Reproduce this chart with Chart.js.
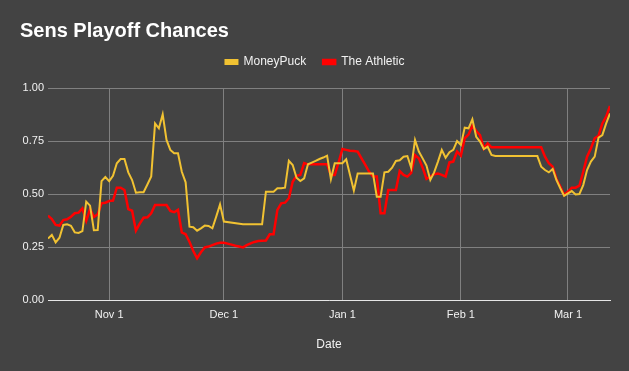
<!DOCTYPE html>
<html>
<head>
<meta charset="utf-8">
<script src="https://cdn.jsdelivr.net/npm/chart.js@4.4.1/dist/chart.umd.min.js"></script>
<style>
html,body{margin:0;padding:0;background:#434343;}
#wrap{width:629px;height:371px;}
</style>
</head>
<body>
<div id="wrap"><canvas id="c" width="629" height="371"></canvas></div>
<script>
// ---- data (daily, starting at startDate) ----
const startDate = '2022-10-16';
const tickDates = ['2022-11-01', '2022-12-01', '2023-01-01', '2023-02-01', '2023-03-01'];
const tickLabels = ['Nov 1', 'Dec 1', 'Jan 1', 'Feb 1', 'Mar 1'];
const seriesNames = ['MoneyPuck', 'The Athletic'];

const moneyPuck = [
  0.29, 0.307, 0.272, 0.294, 0.354, 0.357, 0.35, 0.319, 0.316, 0.325,
  0.464, 0.445, 0.329, 0.33, 0.561, 0.58, 0.561, 0.586, 0.645, 0.665,
  0.665, 0.602, 0.566, 0.506, 0.508, 0.508, 0.545, 0.583, 0.833, 0.81,
  0.876, 0.755, 0.708, 0.692, 0.692, 0.605, 0.555, 0.346, 0.343, 0.327,
  0.338, 0.351, 0.349, 0.338, 0.393, 0.451, 0.37, null, null, null,
  null, 0.357, null, null, null, null, 0.357, 0.511, 0.511, 0.511,
  0.527, 0.527, 0.53, 0.657, 0.637, 0.577, 0.561, 0.574, 0.64, 0.648,
  0.656, 0.665, 0.672, 0.681, 0.57, 0.645, 0.645, 0.645, 0.664, 0.59,
  0.516, 0.597, 0.597, 0.597, 0.597, 0.597, 0.487, 0.487, 0.602, 0.605,
  0.624, 0.656, 0.659, 0.676, 0.679, 0.624, 0.755, 0.7, 0.668, 0.634,
  0.566, 0.602, 0.653, 0.708, 0.671, 0.697, 0.708, 0.75, 0.731, 0.813,
  0.81, 0.852, 0.77, 0.747, 0.712, 0.723, 0.684, 0.679, 0.679, 0.679,
  0.679, 0.679, 0.679, 0.679, 0.679, 0.679, 0.679, 0.679, 0.679, 0.629,
  0.613, 0.602, 0.618, 0.566, 0.527, 0.491, 0.503, 0.514, 0.498, 0.5,
  0.542, 0.613, 0.653, 0.676, 0.766, 0.778, 0.833, 0.88
];

const theAthletic = [
  0.398, 0.382, 0.354, 0.351, 0.377, 0.381, 0.393, 0.409, 0.412, 0.432,
  0.373, 0.429, 0.392, 0.404, 0.456, 0.459, 0.467, 0.469, 0.53, 0.53,
  0.519, 0.429, 0.421, 0.327, 0.36, 0.388, 0.39, 0.409, 0.448, 0.448,
  0.448, 0.448, 0.42, 0.414, 0.425, 0.319, 0.31, 0.275, 0.231, 0.197,
  0.225, 0.248, 0.252, 0.259, 0.266, 0.27, 0.27, 0.266, 0.261, 0.256,
  0.252, 0.248, 0.259, 0.267, 0.274, 0.278, 0.28, 0.281, 0.31, 0.31,
  0.425, 0.456, 0.459, 0.48, 0.558, 0.586, 0.59, 0.646, 0.64, 0.64,
  0.64, 0.64, 0.64, 0.64, 0.59, 0.59, 0.648, 0.712, 0.708, 0.704,
  0.703, 0.7, 0.668, 0.637, 0.605, 0.582, 0.582, 0.409, 0.409, 0.519,
  0.519, 0.519, 0.608, 0.59, 0.582, 0.6, 0.684, 0.668, 0.624, 0.571,
  0.582, 0.593, 0.597, 0.59, 0.582, 0.649, 0.653, 0.7, 0.681, 0.763,
  0.781, 0.822, 0.797, 0.778, 0.715, 0.739, 0.72, 0.72, 0.72, 0.72,
  0.72, 0.72, 0.72, 0.72, 0.72, 0.72, 0.72, 0.72, 0.72, 0.72,
  0.676, 0.645, 0.629, 0.571, 0.535, 0.495, 0.511, 0.53, 0.53, 0.539,
  0.605, 0.676, 0.715, 0.763, 0.775, 0.833, 0.865, 0.915
];

// ---- helpers ----
const DAY = 86400000;
const t0 = Date.parse(startDate + 'T00:00:00Z');
const dayIndex = d => Math.round((Date.parse(d + 'T00:00:00Z') - t0) / DAY);
const tickDays = tickDates.map(dayIndex);
const toPoints = arr => arr.map((v, i) => ({x: i, y: v}));

const FONT = "'Liberation Sans', Arial, sans-serif";
const TEXT = '#f2f2f2';
const GRID = '#808080';

const bgPlugin = {
  id: 'bg',
  beforeDraw(chart) {
    const {ctx, width, height} = chart;
    ctx.save();
    ctx.fillStyle = '#434343';
    ctx.fillRect(0, 0, width, height);
    ctx.restore();
  }
};

const legendSizePlugin = {
  id: 'legendSize',
  afterInit(chart) {
    const lg = chart.legend;
    if (!lg) return;
    const orig = lg.fit.bind(lg);
    lg.fit = function () { orig(); this.height = 49; };
  }
};

new Chart(document.getElementById('c'), {
  type: 'line',
  data: {
    datasets: [
      {
        label: seriesNames[0],
        data: toPoints(moneyPuck),
        borderColor: '#f1c232',
        backgroundColor: '#f1c232',
        borderWidth: 2,
        pointRadius: 0,
        tension: 0,
        spanGaps: true
      },
      {
        label: seriesNames[1],
        data: toPoints(theAthletic),
        borderColor: '#ff0000',
        backgroundColor: '#ff0000',
        borderWidth: 2.5,
        pointRadius: 0,
        tension: 0,
        spanGaps: true
      }
    ]
  },
  options: {
    responsive: false,
    animation: false,
    devicePixelRatio: 1,
    layout: {padding: {left: 20, right: 19, top: 0, bottom: 0}},
    plugins: {
      title: {
        display: true,
        text: 'Sens Playoff Chances',
        align: 'start',
        color: '#ffffff',
        font: {family: FONT, size: 20, weight: 'bold', lineHeight: 1},
        padding: {top: 21, bottom: -2}
      },
      legend: {
        display: true,
        labels: {
          boxWidth: 12,
          boxHeight: 4,
          padding: 17,
          color: TEXT,
          font: {family: FONT, size: 12}
        }
      },
      tooltip: {enabled: false}
    },
    scales: {
      x: {
        type: 'linear',
        min: 0,
        max: moneyPuck.length - 1,
        afterBuildTicks: s => { s.ticks = tickDays.map(v => ({value: v})); },
        afterFit: s => { s.height = 71; },
        ticks: {
          autoSkip: false,
          maxRotation: 0,
          padding: 8,
          color: TEXT,
          font: {family: FONT, size: 11},
          callback: v => tickLabels[tickDays.indexOf(v)] ?? ''
        },
        grid: {color: GRID, drawTicks: false, lineWidth: 1},
        border: {color: '#e6e6e6', width: 1},
        title: {
          display: true,
          text: 'Date',
          color: TEXT,
          font: {family: FONT, size: 12},
          padding: {top: 0, bottom: 19}
        }
      },
      y: {
        min: 0,
        max: 1,
        afterFit: s => { s.width = 28; },
        ticks: {
          stepSize: 0.25,
          padding: 4,
          color: TEXT,
          font: {family: FONT, size: 11},
          callback: v => Number(v).toFixed(2)
        },
        grid: {color: GRID, drawTicks: false, lineWidth: 1},
        border: {display: false}
      }
    }
  },
  plugins: [bgPlugin, legendSizePlugin]
});
</script>
</body>
</html>
